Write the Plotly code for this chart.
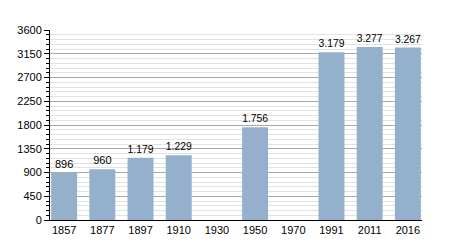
import plotly.graph_objects as go

years = ["1857", "1877", "1897", "1910", "1930", "1950", "1970", "1991", "2011", "2016"]
population = [896, 960, 1179, 1229, None, 1756, None, 3179, 3277, 3267]
y_ticks = [0, 450, 900, 1350, 1800, 2250, 2700, 3150, 3600]


def fmt(v):
    if v is None:
        return ""
    return f"{v:,}".replace(",", ".")


labels = [fmt(v) for v in population]

fig = go.Figure(
    go.Bar(
        x=years,
        y=population,
        text=labels,
        textposition="outside",
        textfont=dict(family="Liberation Sans, Arial, sans-serif", size=11, color="#000000"),
        marker=dict(color="#94b0cc", line=dict(width=0)),
        cliponaxis=False,
        hoverinfo="x+y",
    )
)

fig.update_layout(
    width=450,
    height=250,
    margin=dict(l=50, r=28, t=30, b=30),
    paper_bgcolor="#ffffff",
    plot_bgcolor="#ffffff",
    bargap=0.32,
    showlegend=False,
    font=dict(family="Liberation Sans, Arial, sans-serif", size=11, color="#000000"),
    xaxis=dict(
        type="category",
        range=[-0.37, 9.37],
        showgrid=False,
        showline=True,
        linecolor="#000000",
        linewidth=1,
        ticks="",
        tickfont=dict(size=11, color="#000000"),
        fixedrange=True,
    ),
    yaxis=dict(
        range=[0, 3600],
        tickvals=y_ticks,
        ticktext=[str(t) for t in y_ticks],
        showgrid=True,
        gridcolor="#a8a8a8",
        gridwidth=1,
        showline=True,
        linecolor="#000000",
        linewidth=1,
        ticks="outside",
        ticklen=5,
        tickcolor="#000000",
        tickfont=dict(size=11, color="#000000"),
        zeroline=False,
        minor=dict(
            dtick=90,
            tick0=0,
            showgrid=True,
            gridcolor="#e2e2e2",
            gridwidth=1,
            ticks="outside",
            ticklen=3,
            tickcolor="#000000",
        ),
        fixedrange=True,
    ),
)

fig.write_html("out.html")
